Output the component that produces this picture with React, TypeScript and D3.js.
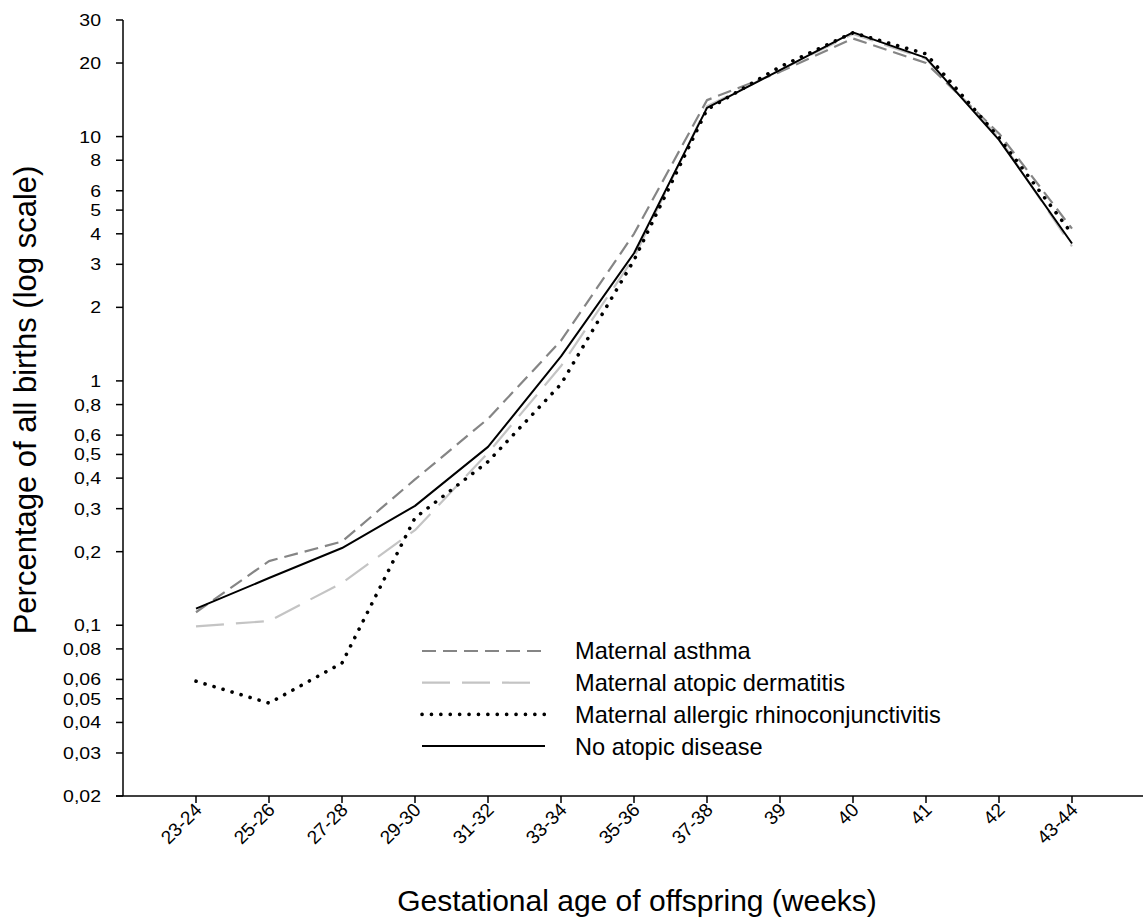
import React from "react";
import * as d3 from "d3";

const categories = ["23-24","25-26","27-28","29-30","31-32","33-34","35-36","37-38","39","40","41","42","43-44"];
const asthma = [0.113, 0.183, 0.22, 0.395, 0.70, 1.46, 4.0, 14.1, 18.4, 25.2, 20.0, 10.3, 4.2];
const dermatitis = [0.099, 0.104, 0.149, 0.245, 0.507, 1.15, 3.2, 13.3, 18.7, 26.3, 20.8, 9.9, 3.55];
const rhino = [0.059, 0.048, 0.070, 0.275, 0.467, 0.97, 3.12, 12.9, 19.3, 26.6, 21.8, 9.9, 4.0];
const noAtopic = [0.117, 0.156, 0.207, 0.308, 0.537, 1.26, 3.33, 13.1, 18.7, 26.7, 21.0, 9.7, 3.65];
const yTicks = [0.02, 0.03, 0.04, 0.05, 0.06, 0.08, 0.1, 0.2, 0.3, 0.4, 0.5, 0.6, 0.8, 1, 2, 3, 4, 5, 6, 8, 10, 20, 30];

const seriesDefs = [
  { name: "Maternal asthma", values: asthma, color: "#858585", dash: "14 7", width: 2.2, cap: "butt", lx2: 545 },
  { name: "Maternal atopic dermatitis", values: dermatitis, color: "#c4c4c4", dash: "28 12", width: 2.2, cap: "butt", lx2: 530 },
  { name: "Maternal allergic rhinoconjunctivitis", values: rhino, color: "#000000", dash: "0.1 9.3", width: 3.6, cap: "round", lx2: 545 },
  { name: "No atopic disease", values: noAtopic, color: "#000000", dash: "", width: 2, cap: "butt", lx2: 545 },
];

export default function App() {
  const W = 1145, H = 923;
  const x0 = 123, yTop = 20, yBot = 796, xEnd = 1143;
  const x = d3.scalePoint<string>().domain(categories).range([196, 196 + 73 * 12]);
  const y = d3.scaleLog().domain([0.02, 30]).range([yBot, yTop]);
  const fmt = (v: number) => String(v).replace(".", ",");
  const font = "'Liberation Sans', Arial, sans-serif";

  return (
    <svg width={W} height={H} style={{ position: "absolute", left: 0, top: 0, background: "#fff" }} fontFamily={font}>
      {/* y axis */}
      <line x1={x0} x2={x0} y1={yTop} y2={yBot} stroke="#000" strokeWidth={1.5} />
      {yTicks.map((t) => (
        <g key={t}>
          <line x1={x0 - 7} x2={x0} y1={y(t)} y2={y(t)} stroke="#000" strokeWidth={1.5} />
          <text transform={`translate(101,${y(t)}) scale(1.18,1)`} dy="0.36em" textAnchor="end" fontSize={16.5} fill="#000">{fmt(t)}</text>
        </g>
      ))}
      {/* x axis */}
      <line x1={x0 - 7} x2={xEnd} y1={yBot} y2={yBot} stroke="#000" strokeWidth={1.5} />
      {categories.map((c) => (
        <g key={c}>
          <line x1={x(c)!} x2={x(c)!} y1={yBot} y2={yBot + 7} stroke="#000" strokeWidth={1.5} />
          <text transform={`translate(${x(c)! + 7},${yBot + 15}) rotate(-45)`} textAnchor="end" fontSize={19} fill="#000">{c}</text>
        </g>
      ))}
      {/* lines */}
      {seriesDefs.map((s) => {
        const line = d3.line<number>().x((_, i) => x(categories[i])!).y((v) => y(v));
        return (
          <path key={s.name} d={line(s.values)!} fill="none" stroke={s.color} strokeWidth={s.width}
            strokeDasharray={s.dash || undefined} strokeLinecap={s.cap as any} strokeLinejoin="round" />
        );
      })}
      {/* legend */}
      {seriesDefs.map((s, i) => {
        const ly = 651 + i * 31.7;
        return (
          <g key={"lg" + s.name}>
            <line x1={422} x2={s.lx2} y1={ly} y2={ly} stroke={s.color} strokeWidth={s.width}
              strokeDasharray={s.dash || undefined} strokeLinecap={s.cap as any} />
            <text x={575} y={ly} dy="0.36em" fontSize={23.6} fill="#000">{s.name}</text>
          </g>
        );
      })}
      {/* axis titles */}
      <text x={637} y={911} textAnchor="middle" fontSize={30} fill="#000">Gestational age of offspring (weeks)</text>
      <text transform={`translate(36,400) rotate(-90)`} textAnchor="middle" fontSize={31} fill="#000">Percentage of all births (log scale)</text>
    </svg>
  );
}
